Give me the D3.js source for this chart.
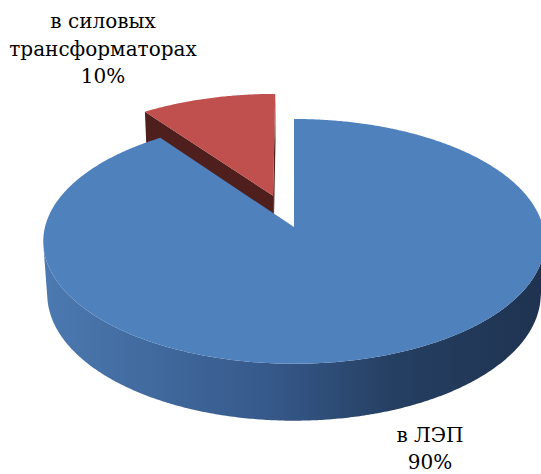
<!DOCTYPE html>
<html>
<head>
<meta charset="utf-8">
<script src="https://cdn.jsdelivr.net/npm/d3@7"></script>
<style>
  html, body { margin: 0; padding: 0; background: #fff; }
  svg { display: block; }
  .lbl { font-family: "DejaVu Serif", "Liberation Serif", serif; }
</style>
</head>
<body>
<script>
// data
const categories = ["в ЛЭП", "в силовых трансформаторах"];
const values = [90, 10];
const labelLines = [["в ЛЭП"], ["в силовых", "трансформаторах"]];

// layout / 3d view
const width = 541, height = 474;
const cx = 294, cy = 227;          // screen position of pie centre
const scale = 249;                 // pixels per radius at centre depth
const dist = 7.46;                 // camera distance (in radii)
const elev = 29 * Math.PI / 180;   // viewing elevation
const thick = 0.245;               // pie thickness (in radii)
const explode = [0, 0.28];
const topColors = ["#4f81bd", "#c0504d"];
const faceColors = ["#2c4a6e", "#4f1f1e"];
const labelPos = [[430, 442], [103, 28]];
const lineH = 27.5;

const svg = d3.select("body").append("svg")
    .attr("width", width)
    .attr("height", height);

const defs = svg.append("defs");
const grad = defs.append("linearGradient")
    .attr("id", "blueSide")
    .attr("gradientUnits", "userSpaceOnUse")
    .attr("x1", cx - scale).attr("x2", cx + scale)
    .attr("y1", 0).attr("y2", 0);
[[0, "#4b79b0"], [0.45, "#36598a"], [0.7, "#253f62"], [1, "#1f3350"]].forEach(s => {
    grad.append("stop").attr("offset", s[0]).attr("stop-color", s[1]);
});
const sideFill = ["url(#blueSide)", "#4f1f1e"];

const cosE = Math.cos(elev), sinE = Math.sin(elev);

// world: x right, y up, z towards viewer; disk radius 1
function project(x, y, z) {
    const d = (dist - z * cosE - y * sinE) / dist;
    const yc = y * cosE - z * sinE;
    return [cx + scale * x / d, cy - scale * yc / d];
}
function rimPoint(a, y, off) {
    return project(off[0] + Math.sin(a), y, off[1] - Math.cos(a));
}
function arcPoints(a0, a1, y, off) {
    const n = Math.max(2, Math.ceil(Math.abs(a1 - a0) / (Math.PI / 360)));
    return d3.range(n + 1).map(i => rimPoint(a0 + (a1 - a0) * i / n, y, off));
}

const line = d3.line();
const cam = [0, dist * sinE, dist * cosE];

const pie = d3.pie().sort(null).value(d => d);
const arcs = pie(values).map((d, i) => {
    const mid = (d.startAngle + d.endAngle) / 2;
    const off = [explode[i] * Math.sin(mid), -explode[i] * Math.cos(mid)];
    const depth = dist - off[1] * cosE;
    return { ...d, i, off, depth };
});

// back to front
arcs.sort((a, b) => b.depth - a.depth);

arcs.forEach(d => {
    const g = svg.append("g");
    const off = d.off;
    const c0 = project(off[0], 0, off[1]);
    const c1 = project(off[0], -thick, off[1]);

    // radial faces
    const faces = [
        { a: d.startAngle, n: [-Math.cos(d.startAngle), -Math.sin(d.startAngle)] },
        { a: d.endAngle, n: [Math.cos(d.endAngle), Math.sin(d.endAngle)] }
    ];
    faces.forEach(f => {
        const vis = f.n[0] * (cam[0] - off[0]) + f.n[1] * (cam[2] - off[1]);
        if (vis <= 1e-6) return;
        const pts = [c0, rimPoint(f.a, 0, off), rimPoint(f.a, -thick, off), c1];
        g.append("path")
            .attr("d", line(pts) + "Z")
            .attr("fill", faceColors[d.i]);
    });

    // outer side: keep runs where the rim faces the camera
    const n = Math.ceil((d.endAngle - d.startAngle) / (Math.PI / 360));
    let run = [];
    const runs = [];
    for (let k = 0; k <= n; k++) {
        const a = d.startAngle + (d.endAngle - d.startAngle) * k / n;
        const nx = Math.sin(a), nz = -Math.cos(a);
        const px = off[0] + nx, pz = off[1] + nz;
        const vis = nx * (cam[0] - px) + nz * (cam[2] - pz);
        if (vis > 0) run.push(a);
        else if (run.length) { runs.push(run); run = []; }
    }
    if (run.length) runs.push(run);
    runs.forEach(r => {
        if (r.length < 2) return;
        const a0 = r[0], a1 = r[r.length - 1];
        const pts = arcPoints(a0, a1, 0, off).concat(arcPoints(a1, a0, -thick, off));
        g.append("path")
            .attr("d", line(pts) + "Z")
            .attr("fill", sideFill[d.i]);
    });

    // top face
    const topPts = [c0].concat(arcPoints(d.startAngle, d.endAngle, 0, off));
    g.append("path")
        .attr("d", line(topPts) + "Z")
        .attr("fill", topColors[d.i]);
});

// labels
const total = d3.sum(values);
const pct = d3.format(".0%");
categories.forEach((c, i) => {
    const lines = labelLines[i].concat([pct(values[i] / total)]);
    const t = svg.append("text")
        .attr("class", "lbl")
        .attr("text-anchor", "middle")
        .style("font-size", "20px")
        .attr("fill", "#000");
    lines.forEach((l, k) => {
        t.append("tspan")
            .attr("x", labelPos[i][0])
            .attr("y", labelPos[i][1] + k * (i === 0 ? 27 : lineH))
            .text(l);
    });
});
</script>
</body>
</html>
